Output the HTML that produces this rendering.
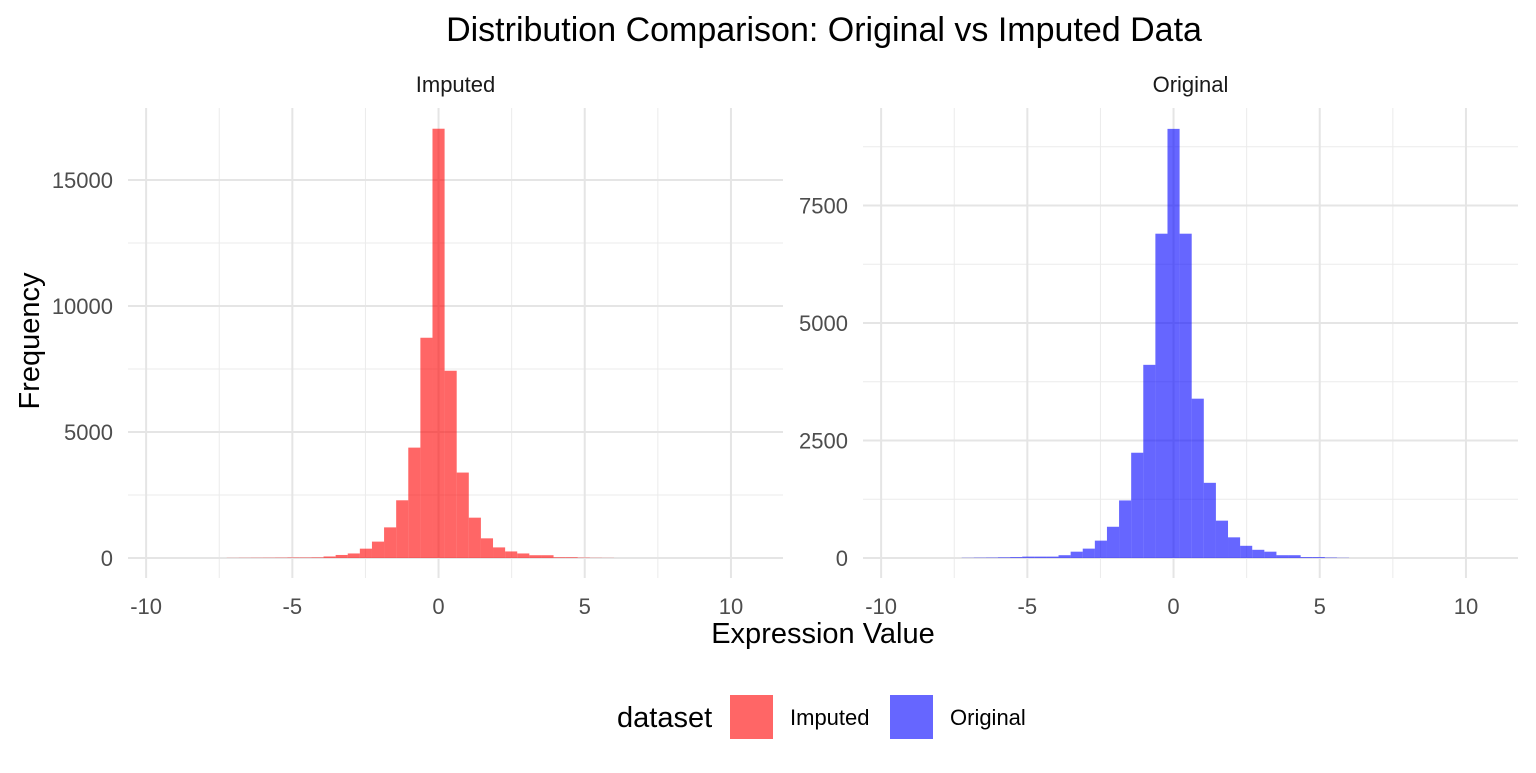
<!DOCTYPE html>
<html><head><meta charset="utf-8"><style>
body{margin:0;background:#fff;}
svg text{font-family:"Liberation Sans",sans-serif;}
</style></head><body>
<svg id="chart" width="1536" height="768" xmlns="http://www.w3.org/2000/svg">
<text x="824" y="41" text-anchor="middle" font-size="34" fill="#000">Distribution Comparison: Original vs Imputed Data</text>
<text x="823" y="643" text-anchor="middle" font-size="29" fill="#000">Expression Value</text>
<text transform="translate(39,341) rotate(-90)" text-anchor="middle" font-size="29" fill="#000">Frequency</text>
<g>
<text x="617" y="727" font-size="29" fill="#000">dataset</text>
<rect x="730" y="695" width="43" height="44" fill="#ff6666"/>
<text x="790" y="725" font-size="22" fill="#000">Imputed</text>
<rect x="890" y="695" width="43" height="44" fill="#6666ff"/>
<text x="950" y="725" font-size="22" fill="#000">Original</text>
</g>
</svg>
<script>
const binWidth = 0.414;
const binIndex = [-17,-16,-15,-14,-13,-12,-11,-10,-9,-8,-7,-6,-5,-4,-3,-2,-1,0,1,2,3,4,5,6,7,8,9,10,11,12,13,14];
const imputedCounts = [5,8,10,12,15,20,20,25,60,120,180,370,650,1215,2290,4380,8740,17035,7430,3390,1600,780,420,260,180,110,110,30,30,15,8,5];
const originalCounts = [5,8,10,15,20,30,30,30,60,135,200,370,665,1225,2240,4110,6900,9130,6900,3390,1600,795,440,260,175,135,60,60,20,20,10,5];
const xTicks = [-10,-5,0,5,10];
const xMinor = [-7.5,-2.5,2.5,7.5];
const leftYTicks = [0,5000,10000,15000];
const leftYMinor = [2500,7500,12500];
const rightYTicks = [0,2500,5000,7500];
const rightYMinor = [1250,3750,6250,8750];

const NS = "http://www.w3.org/2000/svg";
const svg = document.getElementById('chart');
function mk(tag, attrs, parent){const e=document.createElementNS(NS,tag);for(const k in attrs)e.setAttribute(k,attrs[k]);(parent||svg).appendChild(e);return e;}

function panel(name, x0, label, counts, color, yMax, yMin, yTicks, yMinor){
  const w=655, top=108, bottom=578, xmin=-10.62, xmax=11.78;
  const sx=v=>x0+(v-xmin)/(xmax-xmin)*w;
  const sy=v=>bottom-(v-yMin)/(yMax-yMin)*(bottom-top);
  const g=mk('g',{});
  
  
  xMinor.forEach(v=>{const l=mk('line',{x1:sx(v),x2:sx(v),y1:top,y2:bottom,stroke:'#ebebeb','stroke-width':1},g);
    
    });
  yMinor.forEach(v=>{if(sy(v)<top)return;const l=mk('line',{x1:x0,x2:x0+w,y1:sy(v),y2:sy(v),stroke:'#ebebeb','stroke-width':1},g);
    
    });
  xTicks.forEach(v=>{const l=mk('line',{x1:sx(v),x2:sx(v),y1:top,y2:bottom,stroke:'#e5e5e5','stroke-width':2},g);
    
    
    const t=mk('text',{x:sx(v),y:614,'text-anchor':'middle','font-size':22,fill:'#4d4d4d'},g);t.textContent=v;
    
    });
  yTicks.forEach(v=>{const l=mk('line',{x1:x0,x2:x0+w,y1:sy(v),y2:sy(v),stroke:'#e5e5e5','stroke-width':2},g);
    
    
    const t=mk('text',{x:x0-15,y:sy(v)+8,'text-anchor':'end','font-size':22,fill:'#4d4d4d'},g);t.textContent=v;
    
    });
  binIndex.forEach((k,i)=>{const c=counts[i];const xl=sx(k*binWidth-binWidth/2), xr=sx(k*binWidth+binWidth/2);
    const r=mk('rect',{x:xl,y:sy(c),width:xr-xl,height:sy(0)-sy(c),fill:color,'fill-opacity':0.6},g);
    
    });
  const s=mk('text',{x:x0+w/2,y:92,'text-anchor':'middle','font-size':22,fill:'#1a1a1a'},g);s.textContent=label;
  
  
}
panel('imputed',128,'Imputed',imputedCounts,'#ff0000',17857,-794,leftYTicks,leftYMinor);
panel('original',863,'Original',originalCounts,'#0000ff',9574,-425,rightYTicks,rightYMinor);
</script>
</body></html>
